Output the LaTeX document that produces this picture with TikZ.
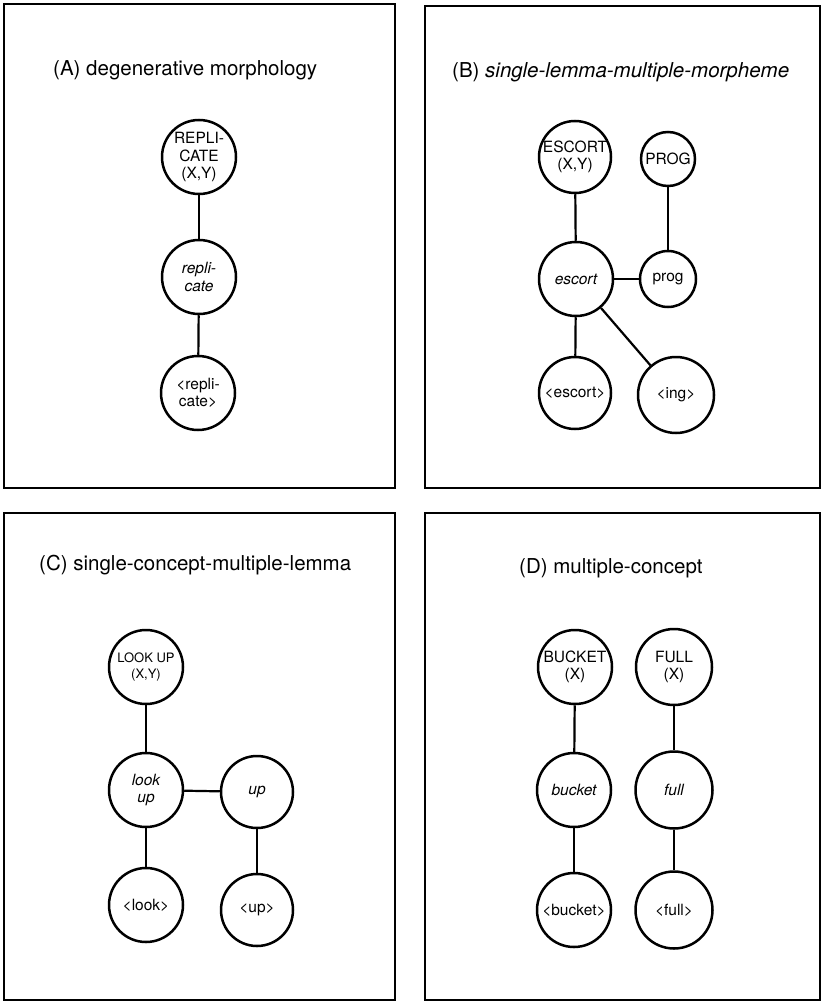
\documentclass[tikz,border=0pt]{standalone}
\usepackage{fontspec}
\setmainfont{TeX Gyre Heros}
\usetikzlibrary{positioning}

\begin{document}
\begin{tikzpicture}[x=1pt, y=-1pt,
  panel/.style={draw, line width=2.8pt},
  paneltitle/.style={anchor=west, inner sep=0pt, font=\fontsize{20.5}{24}\selectfont},
  unit/.style={circle, draw, line width=2.5pt, inner sep=0pt, minimum size=74pt,
    align=center, font=\fontsize{15.5}{17.5}\selectfont},
  lemma/.style={unit, font=\fontsize{15.5}{17.5}\selectfont\itshape},
  link/.style={line width=2.2pt}]
\useasboundingbox (0,0) rectangle (828,1003);

\draw[panel] (4,4) rectangle (395,488);
\draw[panel] (425,6) rectangle (820,488);
\draw[panel] (4,513) rectangle (395,1000);
\draw[panel] (425,513) rectangle (820,1000);

\node[paneltitle] (titleA) at (53,70) {(A) degenerative morphology};
\node[paneltitle] (titleB) at (452,72) {(B) \textit{single-lemma-multiple-morpheme}};
\node[paneltitle] (titleC) at (39,565) {(C) single-concept-multiple-lemma};
\node[paneltitle] (titleD) at (519,568) {(D) multiple-concept};

\node[unit] (replicateC) at (199,157) {REPLI-\\CATE\\(X,Y)};
\node[lemma] (replicateL) at (199,277) {repli-\\cate};
\node[unit] (replicateM) at (198,393) {<repli-\\cate>};
\draw[link] (replicateC) -- (replicateL);
\draw[link] (replicateL) -- (replicateM);

\node[unit, minimum size=72pt] (escortC) at (575,157) {ESCORT\\(X,Y)};
\node[unit, minimum size=54pt] (progC) at (668,159) {PROG};
\node[lemma] (escortL) at (576,279) {escort};
\node[unit, minimum size=56pt] (progL) at (668,279) {prog};
\node[unit, minimum size=72pt] (escortM) at (575,393) {<escort>};
\node[unit, minimum size=76pt] (ingM) at (676,395) {<ing>};
\draw[link] (escortC) -- (escortL);
\draw[link] (progC) -- (progL);
\draw[link] (escortL) -- (progL);
\draw[link] (escortL) -- (escortM);
\draw[link] (escortL) -- (ingM);

\node[unit, font=\fontsize{13}{16}\selectfont] (lookupC) at (146,667) {LOOK UP\\(X,Y)};
\node[lemma] (lookupL) at (146,790) {look\\up};
\node[lemma, minimum size=72pt] (upL) at (257,792) {up};
\node[unit] (lookM) at (146,905) {<look>};
\node[unit, minimum size=72pt] (upM) at (257,910) {<up>};
\draw[link] (lookupC) -- (lookupL);
\draw[link] (lookupL) -- (upL);
\draw[link] (lookupL) -- (lookM);
\draw[link] (upL) -- (upM);

\node[unit] (bucketC) at (575,667) {BUCKET\\(X)};
\node[unit, minimum size=76pt] (fullC) at (674,667) {FULL\\(X)};
\node[lemma] (bucketL) at (574,790) {bucket};
\node[lemma, minimum size=77pt] (fullL) at (674,790) {full};
\node[unit] (bucketM) at (574,910) {<bucket>};
\node[unit, minimum size=77pt] (fullM) at (674,910) {<full>};
\draw[link] (bucketC) -- (bucketL);
\draw[link] (bucketL) -- (bucketM);
\draw[link] (fullC) -- (fullL);
\draw[link] (fullL) -- (fullM);
\end{tikzpicture}
\end{document}
